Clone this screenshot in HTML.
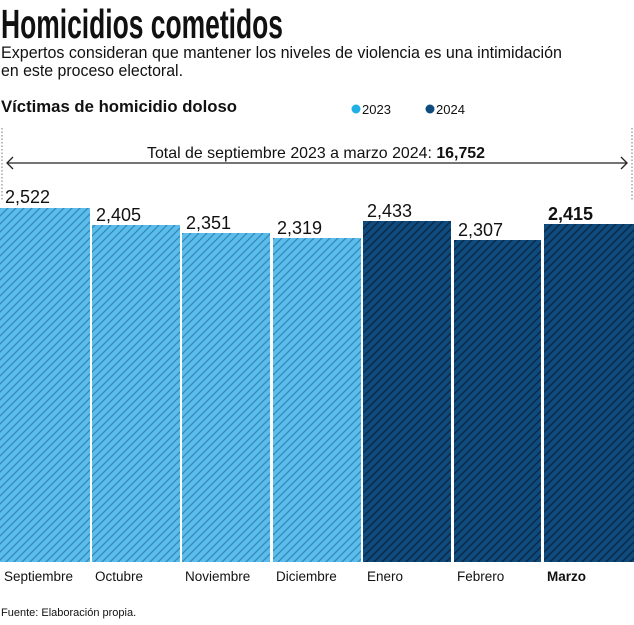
<!DOCTYPE html>
<html><head><meta charset="utf-8"><style>
body{margin:0;background:#fff;width:634px;height:620px;overflow:hidden}
svg text{font-family:"Liberation Sans",sans-serif}
</style></head><body>
<svg width="634" height="620" xmlns="http://www.w3.org/2000/svg">
<defs>
<pattern id="hl" width="8" height="8" patternUnits="userSpaceOnUse">
<rect width="8" height="8" fill="#5bbdeb"/><path d="M-1,9 L9,-1 M-1,1 L1,-1 M7,9 L9,7" stroke="#3587b8" stroke-width="1.3"/></pattern>
<pattern id="hd" width="8" height="8" patternUnits="userSpaceOnUse">
<rect width="8" height="8" fill="#0f4c7d"/><path d="M-1,9 L9,-1 M-1,1 L1,-1 M7,9 L9,7" stroke="#08294a" stroke-width="1.5"/></pattern>
</defs>
<text x="1" y="38" font-size="41" font-weight="bold" font-family="Liberation Sans Narrow, Liberation Sans, sans-serif" textLength="282" lengthAdjust="spacingAndGlyphs" fill="#111">Homicidios cometidos</text>
<text x="1" y="58" font-size="16.5" textLength="561" lengthAdjust="spacingAndGlyphs" fill="#111">Expertos consideran que  mantener los niveles de violencia es una intimidación</text>
<text x="1" y="76" font-size="16.5" textLength="182" lengthAdjust="spacingAndGlyphs" fill="#111">en este proceso electoral.</text>
<text x="1" y="112" font-size="17" font-weight="bold" textLength="236" lengthAdjust="spacingAndGlyphs" fill="#111">Víctimas de homicidio doloso</text>
<circle cx="356" cy="109" r="4.5" fill="#1fb0e6"/><text x="362" y="114" font-size="13" fill="#111">2023</text>
<circle cx="430" cy="109" r="4.5" fill="#0f4c7d"/><text x="436" y="114" font-size="13" fill="#111">2024</text>
<line x1="2" y1="128" x2="2" y2="200" stroke="#777" stroke-dasharray="1.5,2"/>
<line x1="632" y1="128" x2="632" y2="200" stroke="#777" stroke-dasharray="1.5,2"/>
<line x1="7" y1="163" x2="627" y2="163" stroke="#222" stroke-width="1.3"/>
<polyline points="13,157 7,163 13,169" fill="none" stroke="#222" stroke-width="1.3"/>
<polyline points="621,157 627,163 621,169" fill="none" stroke="#222" stroke-width="1.3"/>
<rect x="140" y="142" width="352" height="20" fill="#fff"/>
<text x="147" y="158" font-size="16" fill="#111" textLength="338" lengthAdjust="spacingAndGlyphs">Total de septiembre 2023 a marzo 2024: <tspan font-weight="bold">16,752</tspan></text>
<rect x="0" y="208" width="90" height="354" fill="url(#hl)"/>
<rect x="92" y="225" width="88" height="337" fill="url(#hl)"/>
<rect x="182" y="233" width="88" height="329" fill="url(#hl)"/>
<rect x="273" y="238" width="88" height="324" fill="url(#hl)"/>
<rect x="363" y="221" width="88" height="341" fill="url(#hd)"/>
<rect x="454" y="240" width="87" height="322" fill="url(#hd)"/>
<rect x="544" y="224" width="90" height="338" fill="url(#hd)"/>
<g font-size="18" fill="#111">
<text x="5" y="203">2,522</text>
<text x="96" y="221">2,405</text>
<text x="186" y="229">2,351</text>
<text x="277" y="234">2,319</text>
<text x="367" y="217">2,433</text>
<text x="458" y="236">2,307</text>
<text x="548" y="220" font-weight="bold">2,415</text>
</g>
<g font-size="13.5" fill="#111">
<text x="4" y="581">Septiembre</text>
<text x="95" y="581">Octubre</text>
<text x="185" y="581">Noviembre</text>
<text x="276" y="581">Diciembre</text>
<text x="367" y="581">Enero</text>
<text x="457" y="581">Febrero</text>
<text x="547" y="581" font-weight="bold">Marzo</text>
</g>
<text x="1" y="616" font-size="11" fill="#111">Fuente: Elaboración propia.</text>
</svg>
</body></html>
